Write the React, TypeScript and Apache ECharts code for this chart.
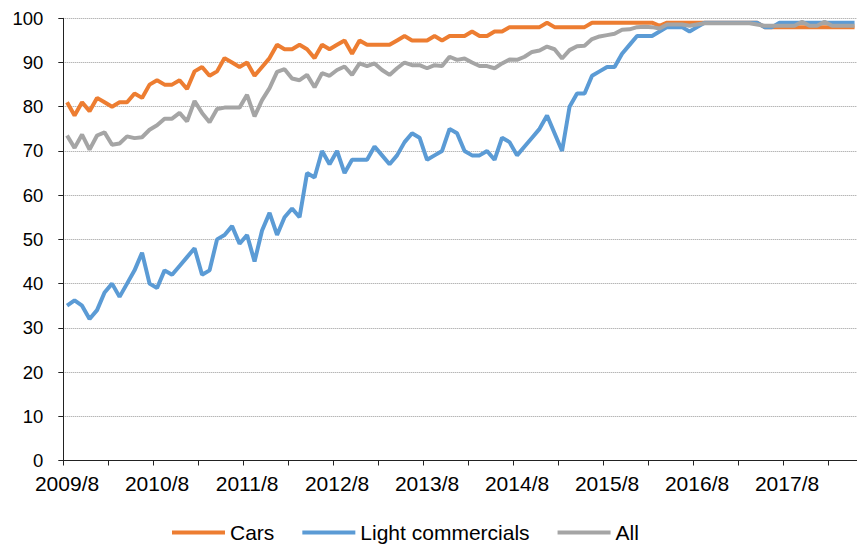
import React, { useEffect, useRef } from "react";
import * as echarts from "echarts";

// Monthly categories 2009/8 .. 2018/5
const startYear = 2009;
const startMonth = 8;
const monthCount = 106;
const categories: string[] = [];
for (let k = 0; k < monthCount; k++) {
  const m = startMonth - 1 + k;
  categories.push(`${startYear + Math.floor(m / 12)}/${(m % 12) + 1}`);
}

const cars: number[] = [
  81, 78, 81, 79, 82, 81, 80, 81, 81, 83, 82, 85, 86, 85, 85, 86, 84, 88, 89, 87,
  88, 91, 90, 89, 90, 87, 89, 91, 94, 93, 93, 94,
  93, 91, 94, 93, 94, 95, 92, 95, 94, 94,
  94, 94, 95, 96, 95, 95, 95, 96, 95, 96,
  96, 96, 97, 96, 96, 97, 97, 98, 98, 98,
  98, 98, 99, 98, 98, 98, 98,
  98, 99, 99, 99, 99, 99, 99, 99, 99, 99, 98.3,
  99, 99, 99, 99, 99, 99, 99, 99, 99, 99, 99, 99, 99,
  98, 98, 98, 98, 98, 98, 98, 98, 98, 98, 98, 98, 98,
];

const lightCommercials: number[] = [
  35, 36.2, 35, 32, 34, 38, 40, 37, 40, 43, 47, 40, 39, 43, 42, 44, 46, 48, 42, 43,
  50, 51, 53, 49, 51, 45, 52, 56, 51, 55, 57, 55,
  65, 64, 70, 67, 70, 65, 68, 68, 68, 71, 69, 67, 69, 72, 74, 73, 68, 69,
  70, 75, 74, 70, 69, 69, 70, 68, 73, 72, 69, 71, 73, 75, 78, 74, 70, 80, 83, 83,
  87, 88, 89, 89, 92, 94, 96, 96, 96, 97, 98, 98, 98, 97, 98, 99,
  99, 99, 99, 99, 99, 99, 99,
  98, 98,
  99, 99, 99, 99, 99, 99, 99, 99, 99, 99, 99,
];

const all: number[] = [
  73.5, 70.7, 73.7, 70.3, 73.5, 74.2, 71.4, 71.7, 73.3, 72.9, 73.1, 74.8, 75.8, 77.3,
  77.3, 78.6, 76.7, 81.3, 78.6, 76.5, 79.5, 79.8, 79.8, 79.8, 82.7, 77.8,
  81.5, 84.2, 87.9, 88.5, 86.4, 86.0, 87.2, 84.4, 87.6, 87.0, 88.3, 89.1, 87.2, 89.8,
  89.2, 89.8, 88.3, 87.2, 88.7, 90.0, 89.4, 89.4, 88.7, 89.4, 89.2, 91.3, 90.6, 90.9,
  90.0, 89.2, 89.2, 88.7, 89.8, 90.7, 90.6, 91.3, 92.4, 92.7, 93.6, 93.0, 90.9, 92.8, 93.7,
  93.8, 95.3, 95.9, 96.2, 96.5, 97.4, 97.5, 98.0, 98.1, 98.0, 97.7,
  98.6, 98.6, 98.6, 98.3, 98.6, 98.9, 98.9, 98.9, 98.9, 98.9, 98.9, 98.9,
  98.6, 98.3, 98.3, 98.3, 98.3, 98.3, 99.2, 98.3, 98.3, 99.2, 98.3, 98.3, 98.3, 98.3,
];

const seriesNames = ["Cars", "Light commercials", "All"];
const colors = ["#ED7D31", "#5B9BD5", "#A5A5A5"];

export default function App() {
  const ref = useRef<HTMLDivElement>(null);
  useEffect(() => {
    if (!ref.current) return;
    const chart = echarts.init(ref.current, undefined, { renderer: "svg" });
    const font = "'Liberation Sans', Arial, sans-serif";
    const mk = (name: string, data: number[], color: string) => ({
      name,
      type: "line" as const,
      data,
      showSymbol: false,
      symbol: "none",
      lineStyle: { color, width: 4 },
      itemStyle: { color },
    });
    chart.setOption({
      animation: false,
      textStyle: { fontFamily: font },
      grid: {
        left: 63.3,
        top: 18.3,
        width: 795,
        height: 442.2,
        containLabel: false,
        outerBoundsMode: "none",
      },
      legend: {
        data: seriesNames,
        left: 172,
        top: 522,
        padding: 0,
        icon: "rect",
        itemWidth: 53,
        itemHeight: 4,
        itemGap: 28,
        textStyle: { fontSize: 21, color: "#000", fontFamily: font },
      },
      xAxis: {
        type: "category",
        data: categories,
        boundaryGap: true,
        axisLine: { lineStyle: { color: "#222", width: 1 } },
        axisTick: { show: true, interval: 5, length: 5, lineStyle: { color: "#222" } },
        axisLabel: {
          interval: 11,
          fontSize: 21,
          color: "#000",
          margin: 12,
          fontFamily: font,
        },
        splitLine: { show: false },
      },
      yAxis: {
        type: "value",
        min: 0,
        max: 100,
        interval: 10,
        axisLine: { show: true, lineStyle: { color: "#222", width: 1 } },
        axisTick: { show: true, length: 5, lineStyle: { color: "#222" } },
        axisLabel: { fontSize: 18.5, color: "#000", margin: 20, fontFamily: font },
        splitLine: { show: true, lineStyle: { color: "#999", type: "dotted", width: 1 } },
      },
      series: [
        mk(seriesNames[0], cars, colors[0]),
        mk(seriesNames[1], lightCommercials, colors[1]),
        mk(seriesNames[2], all, colors[2]),
      ],
    });
    return () => chart.dispose();
  }, []);
  return (
    <div
      ref={ref}
      style={{ position: "absolute", left: 0, top: 0, width: 857, height: 546, background: "#fff" }}
    />
  );
}
